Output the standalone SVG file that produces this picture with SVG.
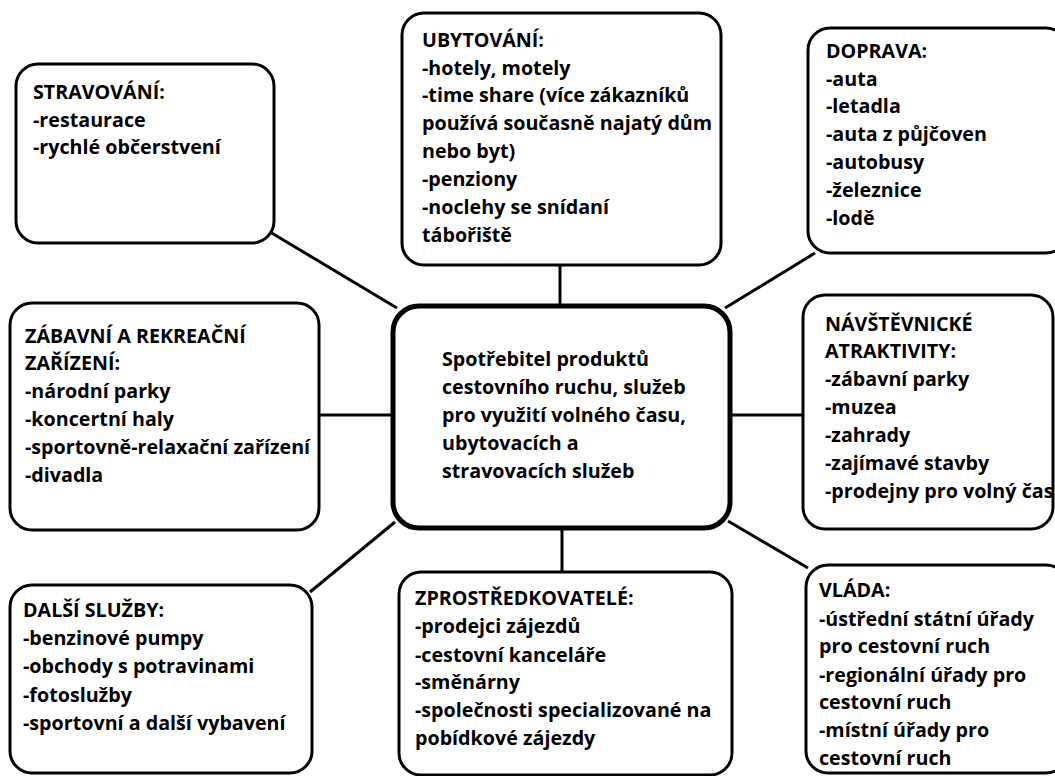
<svg xmlns="http://www.w3.org/2000/svg" width="1055" height="776" viewBox="0 0 1055 776">
<style>
.box{fill:#fff;stroke:#000;stroke-width:3}
.main{fill:#fff;stroke:#000;stroke-width:5}
.conn line{stroke:#000;stroke-width:3}
text{font-family:"Open Sans",Lato,"DejaVu Sans",sans-serif;font-weight:bold;font-size:19.7px;fill:#000}
</style>
<rect width="1055" height="776" fill="#fff"/>
<g id="connectors" class="conn">
<line x1="270" y1="232" x2="397" y2="308"/>
<line x1="560" y1="265" x2="560" y2="306"/>
<line x1="815" y1="253" x2="725" y2="308"/>
<line x1="319" y1="415" x2="393" y2="415"/>
<line x1="730" y1="415" x2="803" y2="415"/>
<line x1="395" y1="522" x2="310" y2="592"/>
<line x1="562" y1="528" x2="562" y2="572"/>
<line x1="728" y1="521" x2="808" y2="568"/>
</g>
<g id="stravovani">
<rect class="box" x="16" y="64" width="258" height="179" rx="22"/>
<text x="33" y="99">STRAVOVÁNÍ:</text>
<text x="33" y="127">-restaurace</text>
<text x="33" y="154">-rychlé občerstvení</text>
</g>
<g id="ubytovani">
<rect class="box" x="402" y="13" width="319" height="252" rx="22"/>
<text x="422" y="47">UBYTOVÁNÍ:</text>
<text x="422" y="75">-hotely, motely</text>
<text x="422" y="102">-time share (více zákazníků</text>
<text x="422" y="130">používá současně najatý dům</text>
<text x="422" y="158">nebo byt)</text>
<text x="422" y="186">-penziony</text>
<text x="422" y="214">-noclehy se snídaní</text>
<text x="422" y="242">tábořiště</text>
</g>
<g id="doprava">
<rect class="box" x="808" y="28" width="260" height="225" rx="22"/>
<text x="826" y="58">DOPRAVA:</text>
<text x="826" y="86">-auta</text>
<text x="826" y="113">-letadla</text>
<text x="826" y="141">-auta z půjčoven</text>
<text x="826" y="169">-autobusy</text>
<text x="826" y="197">-železnice</text>
<text x="826" y="225">-lodě</text>
</g>
<g id="zabavni">
<rect class="box" x="10" y="303" width="309" height="227" rx="22"/>
<text x="25" y="343">ZÁBAVNÍ A REKREAČNÍ</text>
<text x="25" y="370">ZAŘÍZENÍ:</text>
<text x="25" y="398">-národní parky</text>
<text x="25" y="426">-koncertní haly</text>
<text x="25" y="454">-sportovně-relaxační zařízení</text>
<text x="25" y="482">-divadla</text>
</g>
<g id="center">
<rect class="main" x="393" y="306" width="337" height="222" rx="26"/>
<text x="442" y="366">Spotřebitel produktů</text>
<text x="442" y="394">cestovního ruchu, služeb</text>
<text x="442" y="422">pro využití volného času,</text>
<text x="442" y="450">ubytovacích a</text>
<text x="442" y="478">stravovacích služeb</text>
</g>
<g id="navstevnicke">
<rect class="box" x="803" y="295" width="250" height="234" rx="22"/>
<text x="825" y="331">NÁVŠTĚVNICKÉ</text>
<text x="825" y="358">ATRAKTIVITY:</text>
<text x="825" y="386">-zábavní parky</text>
<text x="825" y="414">-muzea</text>
<text x="825" y="442">-zahrady</text>
<text x="825" y="470">-zajímavé stavby</text>
<text x="825" y="498">-prodejny pro volný čas</text>
</g>
<g id="dalsi">
<rect class="box" x="10" y="585" width="302" height="188" rx="22"/>
<text x="23" y="617">DALŠÍ SLUŽBY:</text>
<text x="23" y="645">-benzinové pumpy</text>
<text x="23" y="673">-obchody s potravinami</text>
<text x="23" y="702">-fotoslužby</text>
<text x="23" y="730">-sportovní a další vybavení</text>
</g>
<g id="zprostredkovatele">
<rect class="box" x="399" y="572" width="333" height="203" rx="22"/>
<text x="415" y="605">ZPROSTŘEDKOVATELÉ:</text>
<text x="415" y="633">-prodejci zájezdů</text>
<text x="415" y="662">-cestovní kanceláře</text>
<text x="415" y="689">-směnárny</text>
<text x="415" y="717">-společnosti specializované na</text>
<text x="415" y="745">pobídkové zájezdy</text>
</g>
<g id="vlada">
<rect class="box" x="806" y="565" width="262" height="208" rx="22"/>
<text x="819" y="597">VLÁDA:</text>
<text x="819" y="626">-ústřední státní úřady</text>
<text x="819" y="653">pro cestovní ruch</text>
<text x="819" y="682">-regionální úřady pro</text>
<text x="819" y="709">cestovní ruch</text>
<text x="819" y="737">-místní úřady pro</text>
<text x="819" y="765">cestovní ruch</text>
</g>
</svg>
